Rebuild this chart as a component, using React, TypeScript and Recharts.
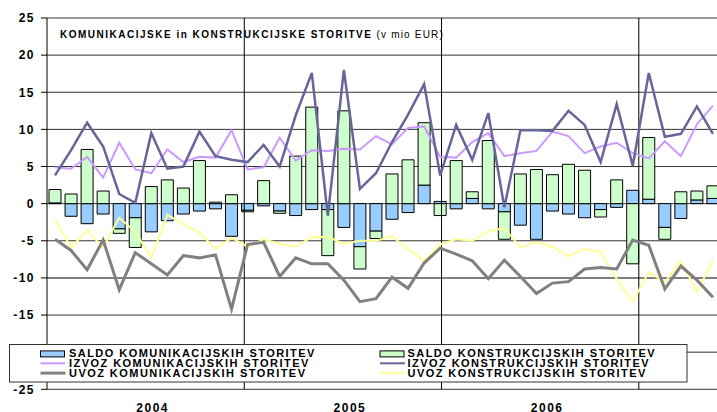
import React from "react";
import {
  Bar,
  CartesianGrid,
  ComposedChart,
  Line,
  ReferenceLine,
  XAxis,
  YAxis,
} from "recharts";

// monthly, Jan 2004 .. Jun 2007 (v mio EUR)
const YEARS = ["2004", "2005", "2006", "2007"];
const MONTHS = YEARS.flatMap((y) =>
  Array.from({ length: 12 }, (_, m) => `${y}-${String(m + 1).padStart(2, "0")}`)
).slice(0, 42);

const YEAR_LABELS = ["2004", "2005", "2006"];
const YEAR_TICKS = [6, 18, 30];
const YEAR_BOUNDS = [12, 24, 36];
const Y_TICKS = [-25, -20, -15, -10, -5, 0, 5, 10, 15, 20, 25];

const SALDO_KOM = [
  0.1, -1.7, -2.7, -1.4, -3.4, -1.9, -3.8, -2.3, -1.4, -1.0, -0.7, -4.4,
  -0.9, -0.3, -1.0, -1.6, -0.8, -0.8, -3.2, -5.8, -3.7, -2.1, -1.2, 2.5,
  0.3, -0.7, 0.7, -0.7, -1.1, -2.9, -4.8, -1.0, -1.4, -1.9, -0.8, -0.5,
  1.8, 0.6, -3.2, -2.0, 0.5, 0.7,
];
const SALDO_KON = [
  1.8, 1.3, 7.3, 1.7, -0.6, -4.0, 2.3, 3.2, 2.1, 5.8, 0.2, 1.2,
  -0.2, 3.1, -0.3, 6.4, 13.0, -6.2, 12.5, -3.0, -1.0, 4.0, 5.9, 8.4,
  -1.6, 5.8, 0.9, 8.5, -3.7, 4.0, 4.6, 3.9, 5.3, 4.5, -1.0, 3.2,
  -8.1, 8.3, -1.6, 1.6, 1.2, 1.7,
];
const IZVOZ_KOM = [
  4.9, 4.7, 6.3, 3.5, 8.2, 4.6, 4.1, 7.3, 5.6, 6.3, 6.2, 9.9,
  4.6, 4.9, 8.9, 5.8, 7.2, 7.1, 7.4, 7.3, 9.1, 8.0, 10.2, 10.4,
  6.3, 6.2, 8.3, 9.5, 6.4, 6.8, 7.1, 9.7, 9.1, 6.8, 7.7, 8.2,
  6.8, 6.1, 8.4, 6.4, 10.7, 13.2,
];
const IZVOZ_KON = [
  3.8, 7.2, 10.9, 7.7, 1.3, 0.1, 9.5, 4.7, 5.0, 9.7, 6.4, 5.9,
  5.6, 7.9, 5.0, 11.9, 17.6, -1.6, 18.0, 2.0, 4.1, 8.3, 12.0, 16.1,
  3.8, 10.6, 5.9, 12.2, -0.5, 9.9, 9.9, 9.8, 12.5, 10.6, 5.6, 13.4,
  5.1, 17.6, 9.0, 9.4, 13.1, 9.4,
];
const UVOZ_KOM = [
  -4.8, -6.3, -8.9, -4.9, -11.6, -6.6, -8.1, -9.6, -7.0, -7.3, -6.9, -14.2,
  -5.5, -5.2, -9.8, -7.3, -8.1, -8.1, -10.3, -13.2, -12.8, -9.9, -11.4, -8.0,
  -6.0, -6.8, -7.7, -10.1, -7.6, -9.8, -12.1, -10.7, -10.5, -8.8, -8.6, -8.8,
  -4.9, -5.6, -11.5, -8.4, -10.3, -12.6,
];
const UVOZ_KON = [
  -2.1, -5.9, -3.6, -5.9, -1.9, -3.8, -7.3, -1.5, -2.8, -3.9, -6.1, -4.6,
  -5.8, -4.8, -5.4, -5.8, -4.5, -4.5, -5.4, -5.0, -5.0, -4.4, -6.1, -7.7,
  -5.5, -4.8, -5.0, -3.7, -3.3, -5.9, -5.2, -5.8, -7.1, -6.1, -6.5, -10.1,
  -13.2, -9.2, -10.6, -7.7, -11.9, -7.6,
];

const FONT = "'Liberation Sans', Arial, Helvetica, sans-serif";

const data = MONTHS.map((m, i) => ({
  m,
  saldoKom: SALDO_KOM[i],
  saldoKon: SALDO_KON[i],
  izvozKom: IZVOZ_KOM[i],
  izvozKon: IZVOZ_KON[i],
  uvozKom: UVOZ_KOM[i],
  uvozKon: UVOZ_KON[i],
}));

const LEGEND = [
  { label: "SALDO KOMUNIKACIJSKIH STORITEV", color: "#99CCFF", kind: "box" },
  { label: "IZVOZ KOMUNIKACIJSKIH STORITEV", color: "#CC99FF", kind: "line", w: 2 },
  { label: "UVOZ KOMUNIKACIJSKIH STORITEV", color: "#808080", kind: "line", w: 3 },
  { label: "SALDO KONSTRUKCIJSKIH STORITEV", color: "#CCFFCC", kind: "box" },
  { label: "IZVOZ KONSTRUKCIJSKIH STORITEV", color: "#666699", kind: "line", w: 2 },
  { label: "UVOZ KONSTRUKCIJSKIH STORITEV", color: "#FFFF99", kind: "line", w: 2 },
];

function YTick(props: any) {
  const { x, y, payload } = props;
  return (
    <text
      x={x}
      y={y}
      dy="0.355em"
      textAnchor="end"
      fontFamily={FONT}
      fontSize={12}
      fontWeight="bold"
      letterSpacing={1.5}
      fill="#000"
    >
      {payload.value}
    </text>
  );
}

function YearTick(props: any) {
  const { x, y, index } = props;
  return (
    <text
      x={x + 7}
      y={y}
      dy="0.71em"
      textAnchor="middle"
      fontFamily={FONT}
      fontSize={12}
      fontWeight="bold"
      letterSpacing={1.5}
      fill="#000"
    >
      {YEAR_LABELS[index]}
    </text>
  );
}

function Overlay() {
  const rows = [357.4, 367.3, 377.1];
  return (
    <svg
      width={717}
      height={412}
      style={{ position: "absolute", left: 0, top: 0, pointerEvents: "none" }}
    >
      <text x={60} y={37.7} fontFamily={FONT} fontSize={10} letterSpacing={1.5} fill="#000">
        <tspan fontWeight="bold">KOMUNIKACIJSKE in KONSTRUKCIJSKE STORITVE</tspan>
        <tspan letterSpacing={1.2}> (v mio EUR)</tspan>
      </text>
      <rect x={9.5} y={344.5} width={677.5} height={37.5} fill="#fff" stroke="#333" strokeWidth={1} />
      {LEGEND.map((e, i) => {
        const col = Math.floor(i / 3);
        const row = i % 3;
        const sx = col === 0 ? 40.5 : 380;
        const tx = col === 0 ? 69 : 407.5;
        const base = rows[row];
        return (
          <g key={e.label}>
            {e.kind === "box" ? (
              <rect x={sx} y={base - 6.5} width={24} height={6} fill={e.color} stroke="#000" strokeWidth={1} />
            ) : (
              <line x1={sx} x2={sx + 25} y1={base - 4} y2={base - 4} stroke={e.color} strokeWidth={e.w} />
            )}
            <text x={tx} y={base} fontFamily={FONT} fontSize={11} fontWeight="bold" letterSpacing={1.45} fill="#000">
              {e.label}
            </text>
          </g>
        );
      })}
    </svg>
  );
}

export default function App() {
  return (
    <div
      style={{
        position: "fixed",
        left: 0,
        top: 0,
        width: 717,
        height: 412,
        overflow: "hidden",
        background: "#fff",
      }}
    >
      <ComposedChart
        width={721}
        height={430}
        data={data}
        margin={{ top: 18, right: 0, bottom: 10.7, left: 0 }}
        stackOffset="sign"
        barSize={12}
      >
        <CartesianGrid vertical={false} stroke="#333" />
        <XAxis dataKey="m" hide height={0} />
        <XAxis
          xAxisId="yr"
          type="number"
          domain={[0, 42]}
          ticks={YEAR_TICKS}
          interval={0}
          axisLine={false}
          tickLine={false}
          tickSize={6}
          tickMargin={8}
          height={30}
          tick={<YearTick />}
        />
        <YAxis
          domain={[-25, 25]}
          ticks={Y_TICKS}
          interval={0}
          width={47}
          axisLine={{ stroke: "#000" }}
          tickLine={{ stroke: "#000" }}
          tickSize={6}
          tickMargin={6}
          tick={<YTick />}
        />
        <ReferenceLine y={-10} stroke="#808080" strokeWidth={2} />
        {YEAR_BOUNDS.map((b) => (
          <ReferenceLine key={b} xAxisId="yr" x={b} stroke="#000" strokeWidth={1} />
        ))}
        <Bar dataKey="saldoKom" stackId="s" fill="#99CCFF" stroke="#000" strokeWidth={1} isAnimationActive={false} />
        <Bar dataKey="saldoKon" stackId="s" fill="#CCFFCC" stroke="#000" strokeWidth={1} isAnimationActive={false} />
        <Line type="linear" dataKey="izvozKom" stroke="#CC99FF" strokeWidth={2} dot={false} isAnimationActive={false} />
        <Line type="linear" dataKey="uvozKon" stroke="#FFFF99" strokeWidth={2} dot={false} isAnimationActive={false} />
        <Line type="linear" dataKey="uvozKom" stroke="#808080" strokeWidth={3} dot={false} isAnimationActive={false} />
        <Line type="linear" dataKey="izvozKon" stroke="#666699" strokeWidth={2.5} dot={false} isAnimationActive={false} />
      </ComposedChart>
      <Overlay />
    </div>
  );
}
